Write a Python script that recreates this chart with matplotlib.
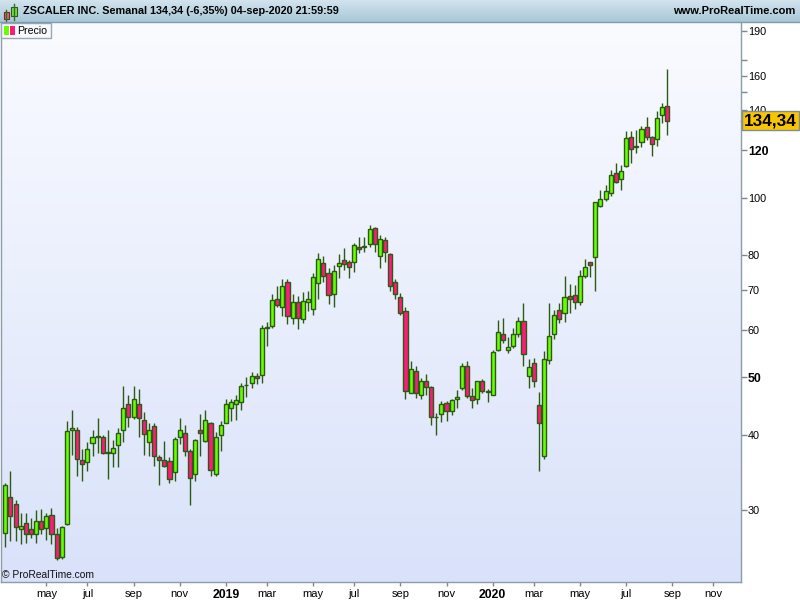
import numpy as np
import pandas as pd
import matplotlib
matplotlib.use('Agg')
import matplotlib.pyplot as plt
from matplotlib import transforms
from matplotlib.patches import Rectangle
from matplotlib.colors import LinearSegmentedColormap

plt.rcParams['font.family'] = ['Liberation Sans', 'DejaVu Sans']

# ZSCALER INC. weekly candles (week starting on Monday)
weeks = pd.date_range('2018-03-12', '2020-08-31', freq='W-MON')

opens = [27.5, 31.5, 30.7, 27.9, 28.5, 27.9, 27.3, 28.8, 28.0, 29.4,
         27.4, 25.0, 28.4, 40.9, 40.8, 36.4, 36.1, 38.9, 39.7, 39.7,
         37.4, 37.4, 38.5, 40.8, 45.1, 42.9, 45.2, 42.5, 39.0, 41.5,
         36.8, 36.4, 36.2, 34.7, 39.8, 40.4, 37.7, 34.4, 40.9, 39.2,
         41.9, 34.4, 40.1, 42.0, 44.5, 45.1, 45.5, 48.5, 48.9, 50.3,
         50.4, 60.6, 60.9, 67.6, 65.5, 72.2, 62.8, 66.8, 62.6, 66.9,
         65.0, 71.9, 77.6, 74.7, 69.0, 76.9, 78.7, 78.0, 78.1, 82.8,
         82.8, 83.5, 88.9, 79.9, 84.9, 80.5, 72.2, 68.1, 64.6, 47.0,
         51.3, 46.8, 49.4, 48.2, 42.9, 43.4, 45.3, 43.9, 46.0, 48.0,
         52.2, 46.5, 46.0, 49.3, 47.3, 46.8, 55.5, 59.2, 55.5, 56.5,
         59.0, 62.2, 50.2, 52.8, 44.9, 37.0, 53.4, 59.2, 64.8, 64.0,
         68.4, 68.7, 66.8, 74.0, 77.9, 79.5, 96.9, 99.3, 101.9, 110.0,
         107.3, 113.1, 126.4, 121.7, 124.0, 131.4, 126.1, 125.2, 137.3, 142.2]
highs = [33.3, 34.9, 31.2, 29.6, 29.7, 29.1, 30.0, 30.1, 29.7, 30.2,
         28.0, 28.2, 42.2, 44.1, 41.3, 37.9, 39.0, 40.8, 42.8, 40.0,
         40.8, 39.3, 41.2, 48.4, 46.7, 48.4, 47.9, 43.8, 41.9, 42.0,
         37.1, 39.1, 36.8, 39.8, 42.7, 41.6, 37.9, 39.4, 43.4, 44.1,
         42.1, 40.5, 42.3, 46.0, 46.0, 46.7, 48.9, 50.0, 51.1, 50.8,
         61.2, 61.9, 69.0, 71.1, 73.1, 73.1, 69.0, 68.3, 69.4, 69.8,
         74.7, 80.9, 79.7, 76.2, 77.0, 80.5, 82.2, 78.6, 83.8, 86.0,
         86.0, 90.0, 89.4, 86.6, 85.8, 80.9, 73.0, 69.2, 65.5, 53.2,
         52.3, 49.9, 50.7, 48.3, 43.6, 45.7, 45.7, 46.1, 47.7, 52.8,
         53.3, 48.0, 49.3, 49.7, 47.9, 55.6, 62.4, 62.8, 58.5, 60.4,
         63.2, 66.7, 53.7, 53.8, 47.3, 55.4, 66.7, 64.8, 66.5, 73.9,
         71.6, 71.4, 75.7, 78.9, 78.0, 98.4, 103.0, 105.0, 111.0, 114.1,
         113.4, 129.3, 129.3, 129.7, 131.7, 136.2, 126.8, 139.5, 144.2, 164.4]
lows = [26.0, 26.6, 26.6, 26.3, 26.4, 26.9, 26.4, 27.4, 26.7, 26.3,
        24.7, 24.8, 28.3, 37.1, 34.2, 33.5, 34.8, 37.0, 37.4, 37.2,
        33.8, 35.4, 35.4, 39.0, 41.3, 42.6, 39.8, 37.1, 37.0, 35.6,
        33.0, 35.4, 33.3, 33.5, 38.7, 36.9, 30.6, 33.5, 37.0, 39.0,
        34.2, 34.2, 37.7, 41.9, 42.3, 42.4, 44.1, 46.4, 48.0, 48.7,
        49.0, 56.5, 60.6, 65.5, 63.3, 61.4, 61.4, 60.2, 61.6, 64.6,
        63.5, 67.6, 72.3, 66.4, 65.5, 73.3, 75.7, 73.3, 75.2, 80.7,
        81.2, 82.5, 81.2, 76.3, 78.1, 69.8, 67.7, 63.6, 46.1, 47.0,
        46.2, 46.1, 46.8, 41.7, 40.0, 42.1, 42.3, 43.3, 44.4, 47.6,
        46.2, 44.5, 45.2, 47.1, 45.5, 46.8, 55.3, 57.1, 54.9, 55.9,
        58.5, 52.3, 48.0, 48.2, 34.9, 36.5, 52.7, 57.9, 61.6, 62.0,
        64.2, 65.0, 66.1, 73.3, 73.6, 69.8, 96.5, 98.8, 100.5, 105.7,
        103.0, 112.6, 114.1, 118.6, 121.7, 124.8, 117.5, 122.2, 133.1, 127.2]
closes = [33.0, 29.3, 28.1, 28.2, 27.4, 27.3, 28.8, 27.9, 29.3, 27.4,
          24.9, 28.1, 40.7, 41.1, 36.5, 35.8, 38.0, 39.7, 39.9, 37.3,
          37.5, 38.1, 40.3, 44.4, 42.9, 46.1, 42.7, 40.2, 40.8, 37.0,
          36.4, 35.6, 33.8, 39.4, 40.8, 37.6, 33.9, 39.3, 40.4, 42.5,
          35.0, 39.8, 41.7, 45.2, 45.4, 45.9, 48.3, 48.6, 50.3, 49.9,
          60.6, 60.7, 67.3, 66.1, 71.1, 63.3, 66.8, 62.8, 67.1, 67.6,
          73.6, 78.8, 74.0, 68.6, 75.4, 77.8, 77.5, 76.6, 83.3, 81.9,
          82.9, 88.6, 83.5, 85.4, 81.0, 71.2, 68.9, 64.0, 47.5, 51.6,
          47.0, 49.3, 48.1, 42.9, 43.0, 45.1, 43.9, 45.8, 46.3, 52.2,
          46.6, 45.9, 49.3, 47.5, 47.4, 55.1, 59.5, 57.8, 56.2, 59.0,
          62.2, 54.8, 52.0, 49.3, 41.9, 53.7, 58.7, 63.6, 62.6, 68.1,
          67.6, 66.9, 74.0, 76.4, 77.0, 98.2, 99.3, 102.7, 109.1, 106.1,
          110.8, 125.6, 120.4, 121.9, 130.0, 126.1, 123.0, 135.7, 141.6, 134.34]

last_price = 134.34
price_ticks = [30, 40, 50, 60, 70, 80, 100, 120, 140, 160, 190]
bold_prices = [50, 120]
unlabeled_ticks = [150, 170]
month_starts = ['2018-05-01', '2018-07-01', '2018-09-01', '2018-11-01', '2019-01-01',
                '2019-03-01', '2019-05-01', '2019-07-01', '2019-09-01', '2019-11-01',
                '2020-01-01', '2020-03-01', '2020-05-01', '2020-07-01', '2020-09-01',
                '2020-11-01']
month_labels = ['may', 'jul', 'sep', 'nov', '2019', 'mar', 'may', 'jul', 'sep', 'nov',
                '2020', 'mar', 'may', 'jul', 'sep', 'nov']

GREEN = '#66FF00'
RED = '#FF1A7A'
EDGE = '#2C5A14'
FRAME = '#8C9DAA'

W, H = 800, 600
fig = plt.figure(figsize=(8, 6), dpi=100, facecolor='white')
rect = [1 / W, 18 / H, 740 / W, 560 / H]

# background gradient of the price pane
bg = fig.add_axes(rect, zorder=0)
bg_cmap = LinearSegmentedColormap.from_list('bg', ['#D9E2FA', '#FAFBFF'])
bg.imshow(np.linspace(0, 1, 256).reshape(-1, 1), aspect='auto', cmap=bg_cmap,
          origin='lower', extent=[0, 1, 0, 1])
bg.axis('off')

ax = fig.add_axes(rect, zorder=1)
ax.set_facecolor('none')
ax.set_yscale('log')

x = np.arange(len(weeks))
o = np.array(opens)
c = np.array(closes)
up = c >= o
ax.vlines(x, lows, highs, color=EDGE, lw=1, zorder=2)
ax.bar(x, np.abs(c - o), bottom=np.minimum(o, c), width=0.8,
       color=np.where(up, GREEN, RED), edgecolor=EDGE, linewidth=1, zorder=3)

ax.set_xlim(-0.84, 143.4)
ax.set_ylim(22.73, 196.7)

# month ticks: first weekly candle of each month
all_weeks = pd.date_range('2018-03-12', '2020-12-28', freq='W-MON')
tick_pos = [all_weeks.searchsorted(pd.Timestamp(d)) for d in month_starts]
ax.set_xticks(tick_pos)
ax.set_xticklabels(month_labels)
for lab in ax.get_xticklabels():
    if lab.get_text().isdigit():
        lab.set_fontweight('bold')
        lab.set_fontsize(8.8)
    else:
        lab.set_fontsize(8)
ax.tick_params(axis='x', direction='out', length=3, width=1, color='#7A8894', pad=2)

ax.yaxis.tick_right()
ax.yaxis.set_minor_locator(matplotlib.ticker.NullLocator())
yt = sorted(price_ticks + unlabeled_ticks)
ax.set_yticks(yt)
ax.set_yticklabels([str(v) if v in price_ticks else '' for v in yt])
for v, lab in zip(yt, ax.get_yticklabels()):
    if v in bold_prices:
        lab.set_fontweight('bold')
        lab.set_fontsize(8.8)
    else:
        lab.set_fontsize(7.8)
ax.tick_params(axis='y', direction='out', length=4, width=1, color='#7A8894', pad=1)

for side in ['left', 'right', 'bottom']:
    ax.spines[side].set_color(FRAME)
    ax.spines[side].set_linewidth(1)
ax.spines['top'].set_visible(False)

# last price box
trans = transforms.blended_transform_factory(ax.transAxes, ax.transData)
ax.plot([1, 1 + 4 / 740], [last_price, last_price], transform=trans, color='#333333',
        lw=1, clip_on=False)
ax.text(1 + 3 / 740, last_price, '134,34', transform=trans,
        ha='left', va='center', fontsize=12.3, fontweight='bold', color='black',
        bbox=dict(boxstyle='square,pad=0.12', fc='#F7C600', ec='#7F8C99', lw=1),
        clip_on=False, zorder=10)

# overlay in pixel units for title bar, legend and credits
ov = fig.add_axes([0, 0, 1, 1], zorder=5)
ov.set_xlim(0, W)
ov.set_ylim(H, 0)
ov.axis('off')
ov.patch.set_alpha(0)

tb = fig.add_axes([0, 1 - 22 / H, 1, 22 / H], zorder=4)
tb_cmap = LinearSegmentedColormap.from_list('tb', ['#A8C7D7', '#D2E4EE'])
tb.imshow(np.linspace(0, 1, 64).reshape(-1, 1), aspect='auto', cmap=tb_cmap,
          origin='lower', extent=[0, 1, 0, 1])
tb.axis('off')
ov.plot([0, W], [21.5, 21.5], color='#7F9BAD', lw=1)

# title icon
ov.plot([6.2, 6.2], [9.5, 20.5], color='#3A6A20', lw=1)
ov.add_patch(Rectangle((3.5, 12), 5.5, 7, fc='#EE6070', ec='#5A3030', lw=0.8))
ov.plot([13.7, 13.7], [3.5, 19.5], color='#3A6A20', lw=1)
ov.add_patch(Rectangle((11, 6.8), 5.5, 9.2, fc='#70E040', ec='#2C5A14', lw=0.8))

ov.text(23, 11.5, 'ZSCALER INC. Semanal 134,34 (-6,35%) 04-sep-2020 21:59:59',
        fontsize=7.8, fontweight='bold', va='center', ha='left', color='black')
ov.text(795, 11.5, 'www.ProRealTime.com', fontsize=8, fontweight='bold',
        va='center', ha='right', color='black')

# legend
ov.add_patch(Rectangle((0.5, 22.5), 50.5, 15.5, fc='#F8F9FC', ec='#9AA8B4', lw=1))
ov.add_patch(Rectangle((4, 26), 5, 9, fc=GREEN, ec='none'))
ov.add_patch(Rectangle((9.5, 26), 5, 9, fc=RED, ec='none'))
ov.text(17, 30.5, 'Precio', fontsize=7.6, va='center', ha='left', color='black')

ov.text(2.5, 575, '\u00a9 ProRealTime.com', fontsize=7.4, va='center', ha='left',
        color='#111111')

fig.savefig('out.png', dpi=100, facecolor='white')
